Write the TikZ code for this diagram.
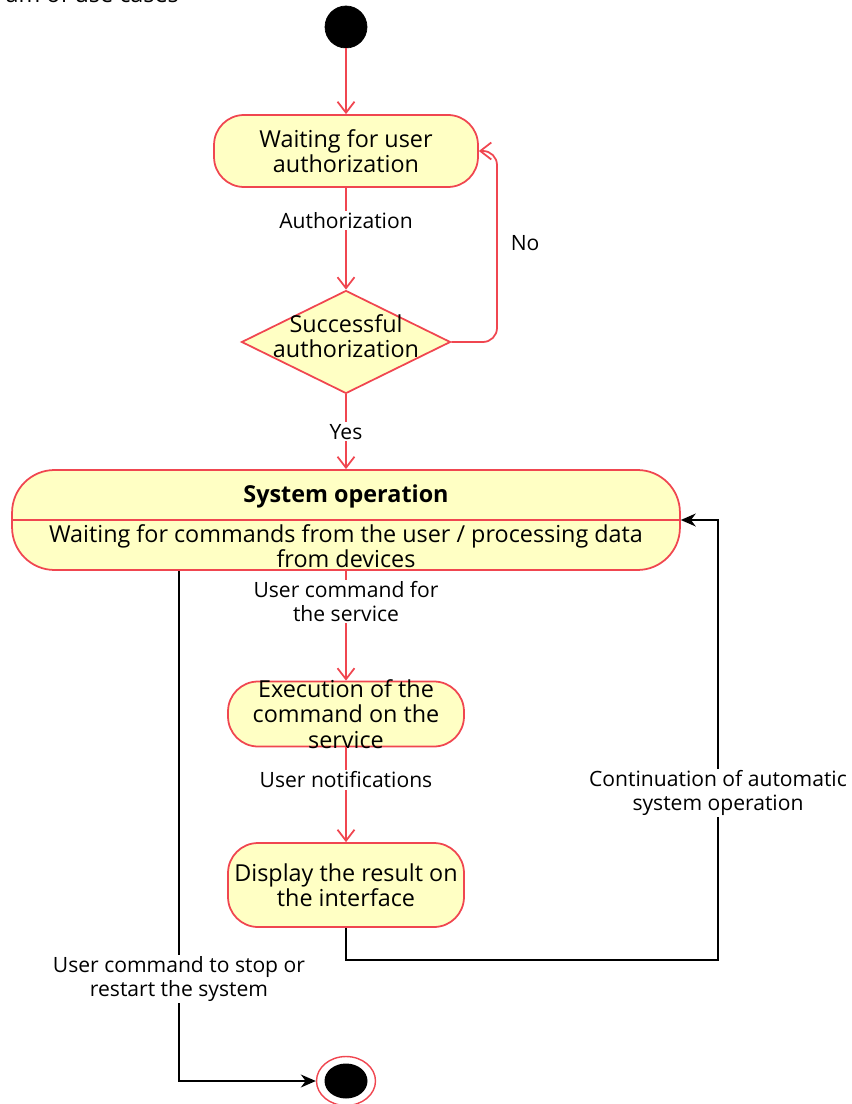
\documentclass[tikz,border=0pt]{standalone}
\usepackage{fontspec}
\setmainfont{Open Sans}
\usetikzlibrary{shapes.geometric,arrows.meta}

\definecolor{umlred}{RGB}{240,70,80}
\definecolor{umlfill}{RGB}{255,255,196}

\begin{document}
\begin{tikzpicture}[x=0.02cm, y=-0.02cm,
    state/.style={rectangle, rounded corners=0.6cm, draw=umlred, fill=umlfill, line width=1pt, align=center, inner sep=0pt, font=\fontsize{13.3}{14.5}\selectfont},
    decision/.style={diamond, draw=umlred, fill=umlfill, line width=1pt, minimum width=4.18cm, minimum height=2.06cm, inner sep=0pt},
    flow/.style={draw=umlred, line width=1pt, -{Straight Barb[length=2.2mm,width=3.4mm]}},
    ctrl/.style={draw=black, line width=0.8pt, -{Stealth[length=3mm,width=2.6mm]}},
    lab/.style={fill=white, inner sep=1pt, align=center, font=\fontsize{12}{13.5}\selectfont}
]
\useasboundingbox (0,0) rectangle (851,1104);

% Cut caption
\node[anchor=base east, font=\fontsize{13.3}{14.5}\selectfont] (caption) at (185,3) {am of use cases};

% Start and end
\node[circle, fill=black, draw=black, minimum size=0.84cm, inner sep=0pt] (start) at (346,27) {};
\node[ellipse, draw=umlred, fill=white, line width=0.8pt, minimum width=1.18cm, minimum height=0.98cm, inner sep=0pt] (end) at (346,1081) {};
\node[ellipse, fill=black, minimum width=0.86cm, minimum height=0.7cm, inner sep=0pt] (enddot) at (346,1081) {};

% States
\node[state, minimum width=5.28cm, minimum height=1.44cm] (wait) at (346,151) {Waiting for user\\authorization};
\node[decision, label={[align=center, yshift=0.12cm, font=\fontsize{13.3}{14.5}\selectfont]center:Successful\\authorization}] (check) at (346,342) {};
\node[state, minimum width=13.36cm, minimum height=2cm, rounded corners=0.85cm] (sys) at (346,520) {};
\draw[umlred, line width=1pt] (sys.west) -- (sys.east);
\node[font=\bfseries\fontsize{13.3}{14.5}\selectfont] (systitle) at (346,496) {System operation};
\node[align=center, font=\fontsize{13.3}{14.5}\selectfont] (sysbody) at (346,546) {Waiting for commands from the user / processing data\\from devices};
\node[state, minimum width=4.72cm, minimum height=1.3cm, inner ysep=-3pt] (exec) at (346,714) {Execution of the\\command on the\\service};
\node[state, minimum width=4.72cm, minimum height=1.68cm] (disp) at (346,885) {Display the result on\\the interface};

% Turn points
\coordinate (noturn) at (497,151);
\coordinate (backdown) at (346,960);
\coordinate (backright) at (718,520);
\coordinate (stopdown) at (179,1081);

% Connectors
\draw[flow] (start) -- (wait);
\draw[flow] (wait) -- node[lab, pos=0.32] {Authorization} (check);
\draw[flow, rounded corners=8pt] (check.east) -| node[pos=0.76, anchor=west, xshift=4pt, font=\fontsize{12}{13.5}\selectfont] {No} (noturn) -- (wait.east);
\draw[flow] (check) -- node[lab] {Yes} (sys);
\draw[flow] (sys) -- node[lab, pos=0.28] {User command for\\the service} (exec);
\draw[flow] (exec) -- node[lab, pos=0.34] {User notifications} (disp);
\draw[ctrl] (disp.south) -- (backdown) -| node[lab, pos=0.69] {Continuation of automatic\\system operation} (backright) -- (sys.east);
\draw[ctrl] (stopdown |- sys.south) -- node[lab, pos=0.8] {User command to stop or\\restart the system} (stopdown) -- (end);
\end{tikzpicture}
\end{document}
